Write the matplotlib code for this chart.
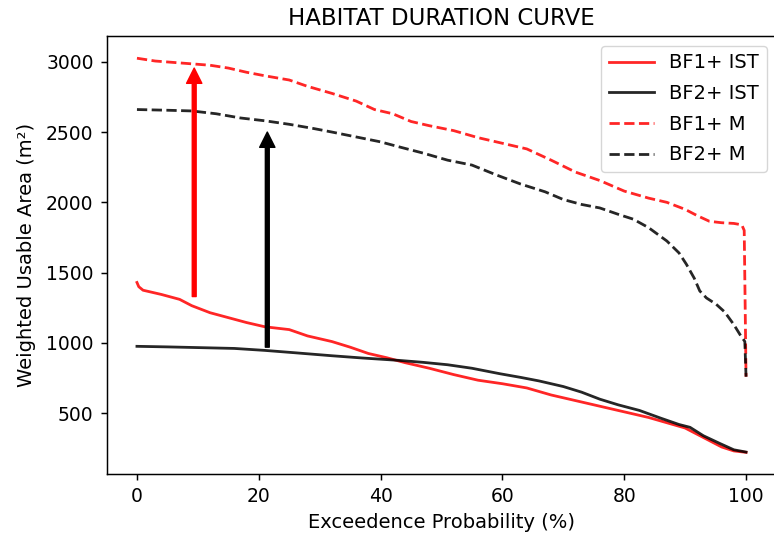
import matplotlib
matplotlib.use("Agg")
import matplotlib.pyplot as plt

# ---- data ----
x_bf1_ist = [0, 0.3, 1, 4, 7, 9, 12, 15, 18, 21, 25, 28, 32, 35, 38, 41, 44, 48, 52, 56, 60, 64, 68, 72, 76, 80, 84, 88, 90, 92, 94, 96, 98, 100]
y_bf1_ist = [1430, 1400, 1375, 1345, 1310, 1265, 1215, 1180, 1145, 1115, 1095, 1050, 1010, 970, 925, 895, 860, 820, 775, 735, 710, 680, 630, 590, 550, 510, 470, 420, 395, 350, 305, 260, 232, 222]

x_bf2_ist = [0, 5, 10, 16, 21, 26, 32, 37, 43, 47, 51, 55, 59.6, 63, 66, 70, 73, 76, 79, 82.5, 86, 89, 90.8, 93, 95.7, 98, 100]
y_bf2_ist = [976, 972, 967, 961, 947, 930, 909, 893, 876, 862, 845, 820, 781, 755, 730, 690, 650, 600, 560, 520, 465, 420, 400, 340, 285, 240, 224]

x_bf1_m = [0, 3, 6, 9, 12, 15, 18, 21, 25, 28, 32, 36, 39, 42, 45, 48, 52, 56, 60, 64, 68, 72, 76, 80, 84, 87, 90, 92, 94, 96, 98, 99.3, 99.7, 100]
y_bf1_m = [3025, 3005, 2995, 2985, 2975, 2955, 2925, 2900, 2870, 2825, 2775, 2720, 2660, 2630, 2575, 2545, 2510, 2460, 2420, 2380, 2300, 2215, 2155, 2080, 2030, 2000, 1950, 1905, 1865, 1855, 1850, 1840, 1800, 760]

x_bf2_m = [0, 5, 9, 13, 17, 21, 25, 29, 32, 36, 40, 43, 47, 51, 55, 59, 63, 67, 70, 73, 76, 79, 81.5, 84, 87, 89, 90.2, 91.5, 92.4, 93.5, 95.1, 96.5, 98, 99, 99.8, 100]
y_bf2_m = [2660, 2655, 2650, 2630, 2600, 2580, 2555, 2525, 2500, 2465, 2430, 2395, 2350, 2300, 2265, 2195, 2130, 2075, 2020, 1985, 1960, 1915, 1880, 1820, 1725, 1640, 1560, 1460, 1370, 1320, 1275, 1220, 1130, 1060, 1010, 760]

labels = ["BF1+ IST", "BF2+ IST", "BF1+ M", "BF2+ M"]

# arrows: (x, tail value, tip value)
arrow_x = [9.4, 21.4]
arrow_from = [1330, 970]
arrow_to = [2955, 2500]
arrow_colors = ["red", "black"]

# ---- figure ----
S = 1.33
plt.rcParams.update({
    "font.family": "DejaVu Sans",
    "xtick.labelsize": 13.5, "ytick.labelsize": 13.5,
    "axes.linewidth": 0.8 * S,
    "xtick.major.width": 0.8 * S, "ytick.major.width": 0.8 * S,
    "xtick.major.size": 3.5 * S, "ytick.major.size": 3.5 * S,
    "xtick.major.pad": 3.5 * S, "ytick.major.pad": 3.5 * S,
})

fig = plt.figure(figsize=(7.74, 5.37), dpi=100)
ax = fig.add_axes([106.5 / 774, 63 / 537, 670 / 774, 438 / 537])

lw = 2.0
ax.plot(x_bf1_ist, y_bf1_ist, color="red", alpha=0.85, lw=lw, label=labels[0])
ax.plot(x_bf2_ist, y_bf2_ist, color="black", alpha=0.85, lw=lw, label=labels[1])
ax.plot(x_bf1_m, y_bf1_m, color="red", alpha=0.85, lw=lw, ls="--", label=labels[2])
ax.plot(x_bf2_m, y_bf2_m, color="black", alpha=0.85, lw=lw, ls="--", label=labels[3])

for xa, y0, y1, c in zip(arrow_x, arrow_from, arrow_to, arrow_colors):
    ax.annotate("", xy=(xa, y1), xytext=(xa, y0),
                arrowprops=dict(facecolor=c, edgecolor=c, width=2.8,
                                headwidth=11, headlength=11, shrink=0.0))

ax.set_xlim(-5, 105)
ax.set_ylim(68, 3183)
ax.set_xticks([0, 20, 40, 60, 80, 100])
ax.set_yticks([500, 1000, 1500, 2000, 2500, 3000])

ax.set_title("HABITAT DURATION CURVE", fontsize=16.5, pad=6 * S)
ax.set_xlabel("Exceedence Probability (%)", fontsize=14, labelpad=4 * S)
ax.set_ylabel("Weighted Usable Area (m²)", fontsize=14, labelpad=7)

ax.legend(loc="upper right", fontsize=14, handlelength=2.3, labelspacing=0.6,
          borderaxespad=0.5, framealpha=0.8)

fig.savefig("out.png", dpi=100)
